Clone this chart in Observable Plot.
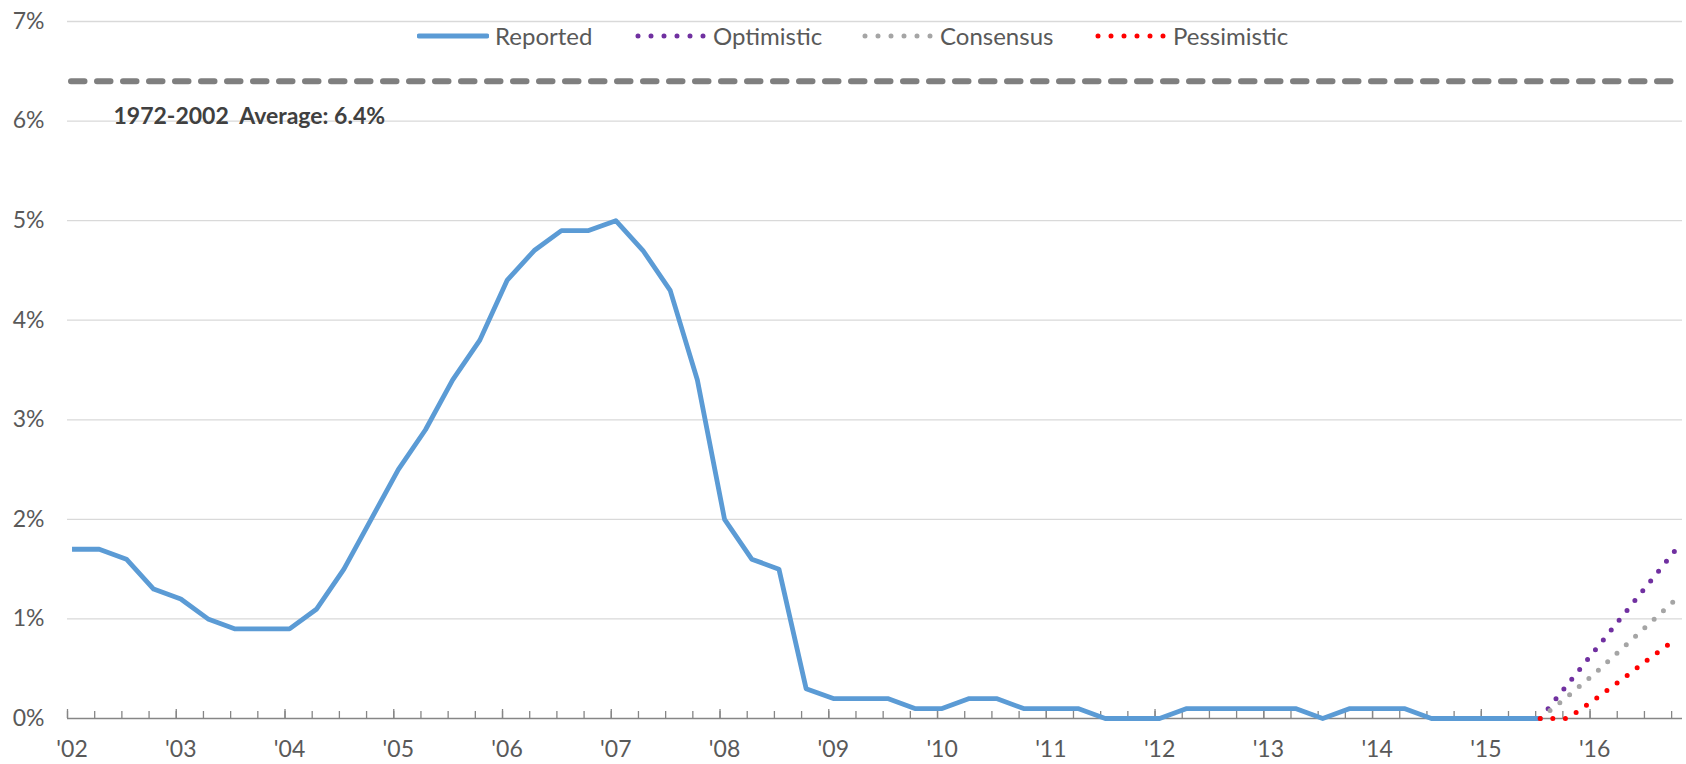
<!DOCTYPE html>
<html>
<head>
<meta charset="utf-8">
<script src="https://cdn.jsdelivr.net/npm/d3@7"></script>
<script src="https://cdn.jsdelivr.net/npm/@observablehq/plot@0.6"></script>
<style>
html, body { margin: 0; padding: 0; background: #fff; }
#wrap { position: relative; width: 1686px; height: 764px; font-family: Lato, "Open Sans", sans-serif; }
#legend .item { position: absolute; top: 20px; height: 31px; display: flex; align-items: center; font-size: 24px; color: #595959; white-space: nowrap; }
#legend .item svg { margin-right: 6px; display: block; }
</style>
</head>
<body>
<div id="wrap"><div id="chart"></div><div id="legend"></div></div>
<script>
// ---- data ----
const reportedStart = "2002Q1";
const reportedRate = [
  1.7, 1.7, 1.6, 1.3,   // 2002
  1.2, 1.0, 0.9, 0.9,   // 2003
  0.9, 1.1, 1.5, 2.0,   // 2004
  2.5, 2.9, 3.4, 3.8,   // 2005
  4.4, 4.7, 4.9, 4.9,   // 2006
  5.0, 4.7, 4.3, 3.4,   // 2007
  2.0, 1.6, 1.5, 0.3,   // 2008
  0.2, 0.2, 0.2, 0.1,   // 2009
  0.1, 0.2, 0.2, 0.1,   // 2010
  0.1, 0.1, 0.0, 0.0,   // 2011
  0.0, 0.1, 0.1, 0.1,   // 2012
  0.1, 0.1, 0.0, 0.1,   // 2013
  0.1, 0.1, 0.0, 0.0,   // 2014
  0.0, 0.0, 0.0         // 2015 Q1-Q3
];
const forecastQuarters = ["2015Q3", "2015Q4", "2016Q1", "2016Q2", "2016Q3", "2016Q4"];
const optimistic  = [0, 0.34, 0.68, 1.02, 1.36, 1.70];
const consensus   = [0, 0.22, 0.45, 0.70, 0.95, 1.20];
const pessimistic = [0, 0.00, 0.19, 0.39, 0.60, 0.80];
const seriesNames = ["Reported", "Optimistic", "Consensus", "Pessimistic"];
const seriesColors = ["#5B9BD5", "#7030A0", "#A5A5A5", "#FF0000"];
const yTicks = [0, 1, 2, 3, 4, 5, 6, 7];
const yearLabels = ["'02","'03","'04","'05","'06","'07","'08","'09","'10","'11","'12","'13","'14","'15","'16"];
const firstYear = 2002, lastYear = 2016;
const historicalAverage = 6.4;
const averageLabel = "1972-2002\u00a0 Average: 6.4%";

// ---- helpers ----
const qYear = s => +s.slice(0, 4) + (+s.slice(5) - 1) / 4;
const pos = t => t + 1 / 24;                  // data sit half a month into the quarter
const startT = qYear(reportedStart);
const reported = reportedRate.map((v, i) => ({t: startT + i / 4, v}));
const forecasts = [optimistic, consensus, pessimistic].flatMap((arr, k) =>
  arr.map((v, i) => ({t: qYear(forecastQuarters[i]), v, s: seriesNames[k + 1]})));
const quarterTicks = d3.range(0, (lastYear - firstYear + 1) * 4).map(i => firstYear + i / 4);
const yearTicks = d3.range(firstYear, lastYear + 1);
const labelAt = new Map(yearTicks.map((y, i) => [pos(y), yearLabels[i]]));

const chart = Plot.plot({
  width: 1686,
  height: 764,
  marginLeft: 67,
  marginRight: 4,
  marginTop: 21,
  marginBottom: 46,
  style: {fontFamily: "Lato, 'Open Sans', sans-serif", background: "#fff"},
  x: {domain: [firstYear, lastYear + 0.85], axis: null},
  y: {domain: [0, 7], axis: null},
  marks: [
    Plot.gridY(yTicks.filter(d => d > 0), {stroke: "#d9d9d9", strokeOpacity: 1, strokeWidth: 1.3}),
    Plot.axisY({ticks: yTicks, tickSize: 0, tickPadding: 23, tickFormat: d => d + "%", fontSize: 23, fill: "#595959", label: null}),
    Plot.ruleY([historicalAverage], {stroke: "#7f7f7f", strokeWidth: 6, strokeDasharray: "13.5 12.5", strokeDashoffset: 22, strokeLinecap: "round"}),
    Plot.text([averageLabel], {frameAnchor: "left", y: 6, dx: 46, dy: -4, text: d => d, textAnchor: "start", fontSize: 23, fontWeight: "bold", fill: "#404040"}),
    Plot.ruleY([0], {stroke: "#868686", strokeWidth: 1.5}),
    Plot.axisX({ticks: quarterTicks, tickSize: -7, stroke: "#868686", strokeWidth: 1.3, fill: "none", label: null}),
    Plot.axisX({ticks: yearTicks, tickSize: -9, stroke: "#868686", strokeWidth: 1.3, fill: "none", label: null}),
    Plot.axisX({ticks: [...labelAt.keys()], tickSize: 0, tickPadding: 22, tickFormat: d => labelAt.get(d), fontSize: 23, fill: "#595959", label: null}),
    Plot.line(reported, {x: d => pos(d.t), y: "v", stroke: seriesColors[0], strokeWidth: 4.8, strokeLinejoin: "round", strokeLinecap: "butt"}),
    ...seriesNames.slice(1).map((name, k) =>
      Plot.line(forecasts.filter(d => d.s === name), {x: d => pos(d.t), y: "v", stroke: seriesColors[k + 1], strokeWidth: 5, strokeDasharray: "0 12.6", strokeLinecap: "round"}))
  ]
});
document.getElementById("chart").appendChild(chart);

// ---- legend (overlaid inside the plot area, like the original) ----
const legendLeft = [417, 635, 862, 1095];
const legend = document.getElementById("legend");
seriesNames.forEach((name, i) => {
  const item = document.createElement("div");
  item.className = "item";
  item.style.left = legendLeft[i] + "px";
  const dotted = i > 0;
  item.innerHTML = `<svg width="72" height="12"><line x1="${dotted ? 3 : 2}" x2="${dotted ? 69 : 70}" y1="6" y2="6" stroke="${seriesColors[i]}" stroke-width="${dotted ? 5 : 4.8}" stroke-linecap="round" ${dotted ? 'stroke-dasharray="0 13"' : ""}/></svg><span>${name}</span>`;
  legend.appendChild(item);
});
</script>
</body>
</html>
